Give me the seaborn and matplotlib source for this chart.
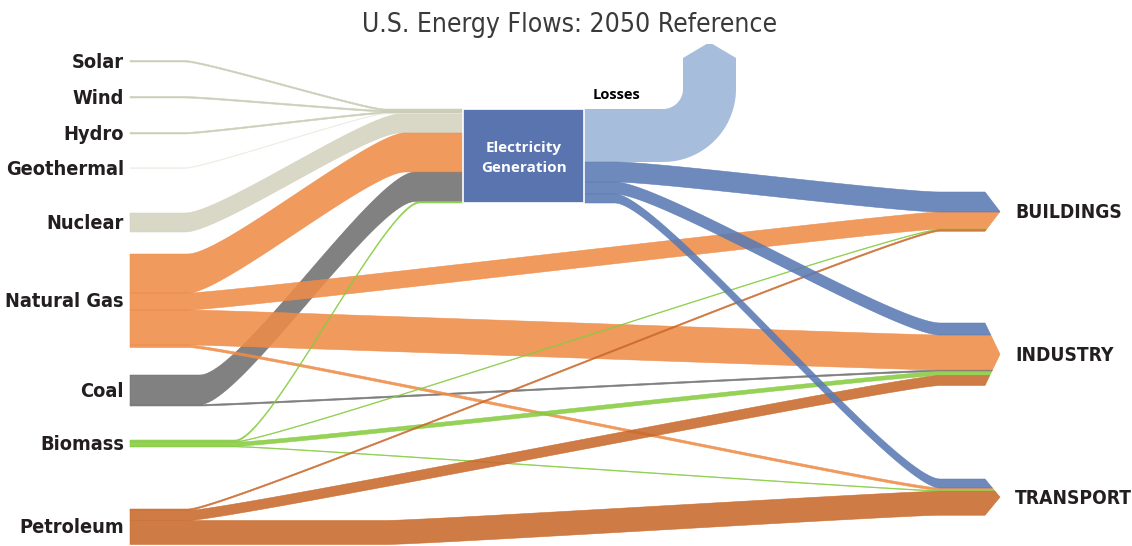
import numpy as np
import matplotlib
matplotlib.use("Agg")
import matplotlib.pyplot as plt
import seaborn as sns

sns.set_theme(style="white")
plt.rcParams['font.family'] = ['DejaVu Sans']
plt.rcParams['font.stretch'] = 'condensed'

# ---- data: energy flows, quads ----
sources = ['Solar', 'Wind', 'Hydro', 'Geothermal', 'Nuclear',
           'Natural Gas', 'Coal', 'Biomass', 'Petroleum']
sectors = ['BUILDINGS', 'INDUSTRY', 'TRANSPORT']

flow_src = ['Solar', 'Wind', 'Hydro', 'Geothermal', 'Nuclear',
            'Natural Gas', 'Natural Gas', 'Natural Gas', 'Natural Gas',
            'Coal', 'Coal',
            'Biomass', 'Biomass', 'Biomass', 'Biomass',
            'Petroleum', 'Petroleum', 'Petroleum',
            'Electricity', 'Electricity', 'Electricity', 'Electricity']
flow_dst = ['Electricity', 'Electricity', 'Electricity', 'Electricity', 'Electricity',
            'Electricity', 'BUILDINGS', 'INDUSTRY', 'TRANSPORT',
            'Electricity', 'INDUSTRY',
            'Electricity', 'BUILDINGS', 'INDUSTRY', 'TRANSPORT',
            'BUILDINGS', 'INDUSTRY', 'TRANSPORT',
            'Losses', 'BUILDINGS', 'INDUSTRY', 'TRANSPORT']
flow_val = [0.6, 0.6, 0.6, 0.2, 7.6,
            15.6, 6.8, 14.0, 1.0,
            11.8, 0.6,
            0.6, 0.3, 1.6, 0.3,
            0.6, 4.0, 9.6,
            21.2, 8.0, 4.8, 3.6]

# ---- styles / layout ----
src_colors = ['#C9CAB3', '#C9CAB3', '#C9CAB3', '#ECECE2', '#D4D3BE',
              '#EE8C48', '#707070', '#86CC40', '#C9692B']
elec_out_color = '#5A7AB3'
loss_color = '#A6BDDC'
box_color = '#5A74B0'
pal = dict(zip(sources, sns.color_palette(src_colors)))

PX = 2.5                       # pixels per quad
src_top = [60.5, 96.5, 132.5, 167.8, 213, 254, 375, 440, 509]
src_bend = [185, 185, 185, 185, 185, 188, 200, 235, 188]
src_curve = [20, 20, 20, 20, 35, 35, 40, 35, 40]
elec_in_end = [385, 385, 385, 385, 400, 405, 415, 420, 420]
bend_override = {('Petroleum', 'TRANSPORT'): 385}
sector_top = [192, 323, 479]
X_LEFT, X_SECT, X_BASE, X_TIP = 130, 940, 985, 1000
ELEC_X0, ELEC_X1, ELEC_TOP = 463, 584, 109
ALPHA = 0.88

fig = plt.figure(figsize=(11.32, 5.46), dpi=100)
ax = fig.add_axes([0, 0, 1, 1])
ax.set_xlim(0, 1132)
ax.set_ylim(546, 0)
ax.axis('off')

# stacking offsets
n = len(flow_val)
y_start = [0.0] * n
y_end = [0.0] * n
off = dict(zip(sources, src_top))
off['Electricity'] = ELEC_TOP
for i in range(n):
    y_start[i] = off[flow_src[i]]
    off[flow_src[i]] += flow_val[i] * PX

rank = {'Electricity': 0}
rank.update({s: k + 1 for k, s in enumerate(sources)})
sector_span = {}
for sec, top in zip(sectors, sector_top):
    y = top
    for i in sorted([i for i in range(n) if flow_dst[i] == sec], key=lambda i: rank[flow_src[i]]):
        y_end[i] = y
        y += flow_val[i] * PX
    sector_span[sec] = (top, y)
y = ELEC_TOP
for i in range(n):
    if flow_dst[i] == 'Electricity':
        y_end[i] = y
        y += flow_val[i] * PX


def bezier(xa, ya, xb, yb, c, m=80):
    t = np.linspace(0, 1, m)
    px = [xa, xa + c, xb - c, xb]
    py = [ya, ya, yb, yb]
    bx = (1-t)**3*px[0] + 3*(1-t)**2*t*px[1] + 3*(1-t)*t**2*px[2] + t**3*px[3]
    by = (1-t)**3*py[0] + 3*(1-t)**2*t*py[1] + 3*(1-t)*t**2*py[2] + t**3*py[3]
    return bx, by


def chevron(ys, sec):
    top, bot = sector_span[sec]
    yc, h = (top + bot) / 2, (bot - top) / 2
    return X_BASE + (X_TIP - X_BASE) * np.clip(1 - np.abs(ys - yc) / h, 0, 1)


def ribbon(x0, xa, ya, xb, yb, w, c, dst, color, z):
    bx, by = bezier(xa, ya, xb, yb, c)
    if dst in sectors:
        top, bot = sector_span[dst]
        yc = (top + bot) / 2
        ry = np.linspace(yb, yb + w, 8)
        if yb < yc < yb + w:
            ry = np.sort(np.r_[ry, yc])
        rx = chevron(ry, dst)
    else:
        ry = np.array([yb, yb + w])
        rx = np.array([ELEC_X0, ELEC_X0])
    xs = np.r_[x0, bx, rx, bx[::-1], x0]
    ys = np.r_[ya, by, ry, by[::-1] + w, ya + w]
    ax.fill(xs, ys, color=color, alpha=ALPHA, lw=0.4, ec=color, zorder=z)


zorders = {'Coal': 1, 'Biomass': 2, 'Natural Gas': 2, 'Petroleum': 2}
for i in range(n):
    s, d, w = flow_src[i], flow_dst[i], flow_val[i] * PX
    if s in sources:
        k = sources.index(s)
        if d == 'Electricity':
            ribbon(X_LEFT, src_bend[k], y_start[i], elec_in_end[k], y_end[i], w,
                   src_curve[k], d, pal[s], zorders.get(s, 2))
        else:
            xa = bend_override.get((s, d), src_bend[k])
            ribbon(X_LEFT, xa, y_start[i], X_SECT, y_end[i], w, 40, d, pal[s],
                   zorders.get(s, 2))
    elif d in sectors:
        ribbon(ELEC_X1, 615, y_start[i], X_SECT, y_end[i], w, 45, d, elec_out_color, 3)
    else:
        # losses: bend upward into an arrow
        r_i = 20
        cx, cy = 663, y_start[i] - r_i
        r_o = r_i + w
        th = np.linspace(0, np.pi / 2, 30)
        xi, yi = cx + r_i * np.sin(th), cy + r_i * np.cos(th)
        xo, yo = cx + r_o * np.sin(th), cy + r_o * np.cos(th)
        xl, xr = cx + r_i, cx + r_o
        xm = (xl + xr) / 2
        xs = np.r_[ELEC_X1, xi, xl, xm - 3, xm + 3, xr, xo[::-1], ELEC_X1]
        ys = np.r_[y_start[i], yi, 58, 44, 44, 58, yo[::-1], y_start[i] + w]
        ax.fill(xs, ys, color=loss_color, lw=0, zorder=3)

# electricity generation box
elec_h = sum(v for v, d in zip(flow_val, flow_dst) if d == 'Electricity') * PX
ax.add_patch(plt.Rectangle((ELEC_X0, ELEC_TOP), ELEC_X1 - ELEC_X0, elec_h,
                           fc=box_color, ec='white', lw=1.2, zorder=5))
ax.text((ELEC_X0 + ELEC_X1) / 2, ELEC_TOP + elec_h * 0.52, 'Electricity\nGeneration',
        ha='center', va='center', color='white', fontsize=11, fontweight='bold',
        family=['Open Sans', 'DejaVu Sans'], fontstretch='normal', linespacing=1.55, zorder=6)
ax.text(617, 95, 'Losses', ha='center', va='center', fontsize=10.5, fontweight='bold',
        family=['Open Sans', 'DejaVu Sans'], fontstretch='normal', color='black', zorder=6)

# labels
for k, s in enumerate(sources):
    tot = sum(v for v, src in zip(flow_val, flow_src) if src == s) * PX
    ax.text(124, src_top[k] + tot / 2 + 1, s, ha='right', va='center', fontsize=14.3,
            fontweight='bold', color='#231F20')
for sec in sectors:
    top, bot = sector_span[sec]
    ax.text(1015, (top + bot) / 2 + 1, sec, ha='left', va='center', fontsize=13.8,
            fontweight='bold', color='#231F20')

ax.text(570, 25, 'U.S. Energy Flows: 2050 Reference', ha='center', va='center',
        fontsize=19, color='#3A3A3A')

fig.savefig('out.png', dpi=100)
